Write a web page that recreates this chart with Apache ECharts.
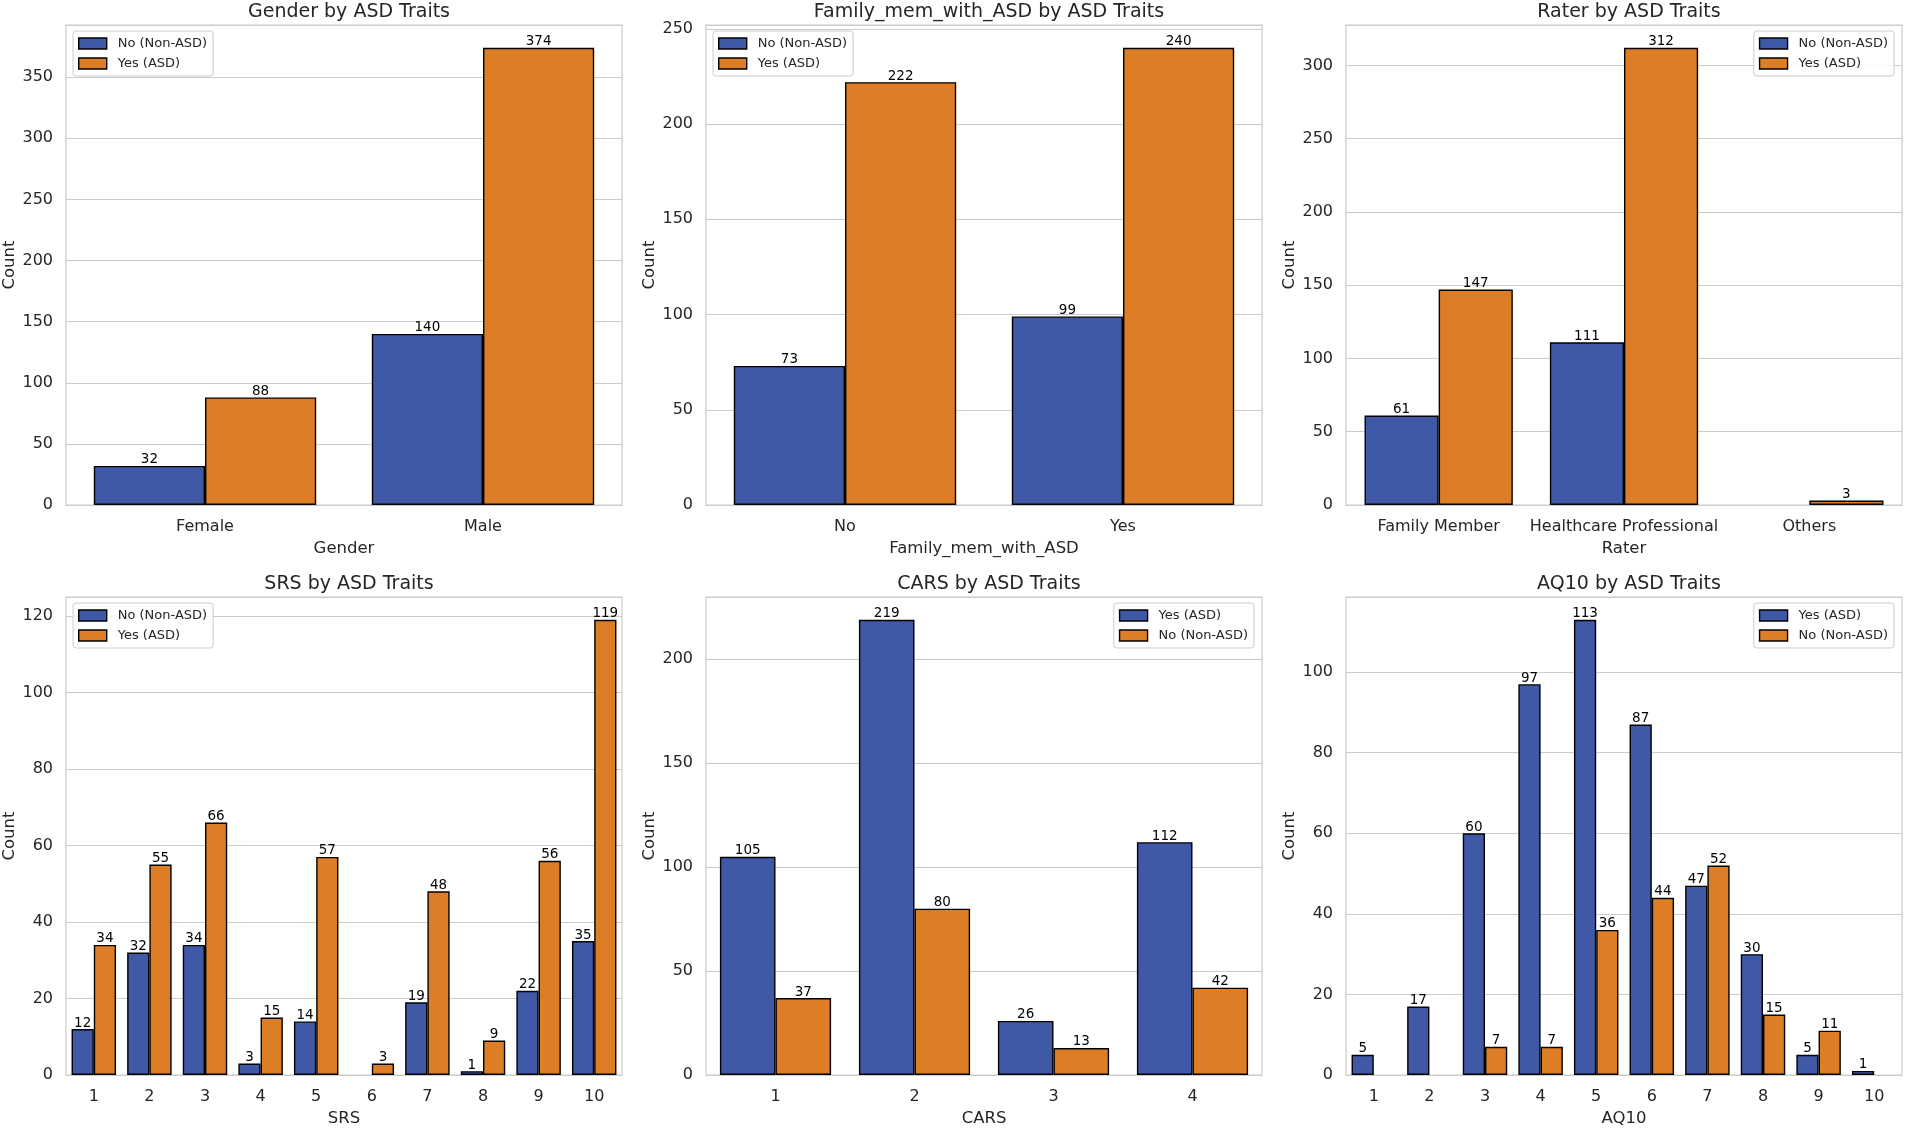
<!DOCTYPE html>
<html>
<head>
<meta charset="utf-8">
<script src="https://cdn.jsdelivr.net/npm/echarts@6/dist/echarts.min.js"></script>
<style>
html,body{margin:0;padding:0;background:#fff;}
#chart{width:1905px;height:1128px;}
</style>
</head>
<body>
<div id="chart"></div>
<script>
// ---- data ----
const genderCats = ['Female', 'Male'];
const genderNo = [32, 140];
const genderYes = [88, 374];

const familyCats = ['No', 'Yes'];
const familyNo = [73, 99];
const familyYes = [222, 240];

const raterCats = ['Family Member', 'Healthcare Professional', 'Others'];
const raterNo = [61, 111, null];
const raterYes = [147, 312, 3];

const srsCats = ['1', '2', '3', '4', '5', '6', '7', '8', '9', '10'];
const srsNo = [12, 32, 34, 3, 14, null, 19, 1, 22, 35];
const srsYes = [34, 55, 66, 15, 57, 3, 48, 9, 56, 119];

const carsCats = ['1', '2', '3', '4'];
const carsYes = [105, 219, 26, 112];
const carsNo = [37, 80, 13, 42];

const aq10Cats = ['1', '2', '3', '4', '5', '6', '7', '8', '9', '10'];
const aq10Yes = [5, 17, 60, 97, 113, 87, 47, 30, 5, 1];
const aq10No = [null, null, 7, 7, 36, 44, 52, 15, 11, null];

const yTickSteps = [50, 50, 50, 20, 50, 20];

// ---- panels ----
const panels = [
  {title: 'Gender by ASD Traits', xName: 'Gender', cats: genderCats,
   s: [['No (Non-ASD)', genderNo], ['Yes (ASD)', genderYes]], legend: 'left'},
  {title: 'Family_mem_with_ASD by ASD Traits', xName: 'Family_mem_with_ASD', cats: familyCats,
   s: [['No (Non-ASD)', familyNo], ['Yes (ASD)', familyYes]], legend: 'left'},
  {title: 'Rater by ASD Traits', xName: 'Rater', cats: raterCats,
   s: [['No (Non-ASD)', raterNo], ['Yes (ASD)', raterYes]], legend: 'right'},
  {title: 'SRS by ASD Traits', xName: 'SRS', cats: srsCats,
   s: [['No (Non-ASD)', srsNo], ['Yes (ASD)', srsYes]], legend: 'left'},
  {title: 'CARS by ASD Traits', xName: 'CARS', cats: carsCats,
   s: [['Yes (ASD)', carsYes], ['No (Non-ASD)', carsNo]], legend: 'right'},
  {title: 'AQ10 by ASD Traits', xName: 'AQ10', cats: aq10Cats,
   s: [['Yes (ASD)', aq10Yes], ['No (Non-ASD)', aq10No]], legend: 'right'}
];

const colors = ['#4059a7', '#dd7e27'];
const textColor = '#262626';
const font = 'DejaVu Sans';
const colLeft = [66, 706, 1346];
const rowTop = [25, 597];
const gw = 556, gh = 480;
const W = 1905;

const option = {
  animation: false,
  backgroundColor: '#fff',
  textStyle: {fontFamily: font},
  title: [], legend: [], grid: [], xAxis: [], yAxis: [], series: []
};

panels.forEach((p, i) => {
  const L = colLeft[i % 3], T = rowTop[Math.floor(i / 3)];
  const step = yTickSteps[i];
  const allVals = p.s[0][1].concat(p.s[1][1]).filter(v => v != null);
  const ymax = Math.max.apply(null, allVals) * 1.05;

  option.grid.push({left: L, top: T, width: gw, height: gh, show: true,
    borderColor: '#cccccc', borderWidth: 1.25, backgroundColor: '#fff', containLabel: false});

  option.title.push({text: p.title, left: L + gw / 2, top: T - 27, textAlign: 'center',
    textStyle: {fontFamily: font, fontSize: 19, fontWeight: 'normal', color: textColor}});

  option.xAxis.push({type: 'category', gridIndex: i, data: p.cats,
    name: p.xName, nameLocation: 'middle', nameGap: 35,
    nameTextStyle: {fontFamily: font, fontSize: 16.5, color: textColor},
    axisLine: {show: false}, axisTick: {show: false}, splitLine: {show: false},
    axisLabel: {interval: 0, margin: 14, fontFamily: font, fontSize: 16, color: textColor}});

  option.yAxis.push({type: 'value', gridIndex: i, min: 0, max: ymax, interval: step,
    name: 'Count', nameLocation: 'middle', nameGap: 48,
    nameTextStyle: {fontFamily: font, fontSize: 16.5, color: textColor},
    axisLine: {show: false}, axisTick: {show: false},
    splitLine: {show: true, lineStyle: {color: '#cccccc', width: 1.1}},
    axisLabel: {margin: 13, fontFamily: font, fontSize: 16, color: textColor,
      showMaxLabel: false,
      formatter: v => (Math.abs(v / step - Math.round(v / step)) < 1e-9 ? String(v) : '')}});

  const names = [];
  p.s.forEach((s, k) => {
    const nm = i + '|' + s[0];
    names.push(nm);
    option.series.push({type: 'bar', name: nm, xAxisIndex: i, yAxisIndex: i, data: s[1],
      barWidth: '40%', barGap: '0%',
      itemStyle: {color: colors[k], borderColor: '#000000', borderWidth: 1.4},
      label: {show: true, position: 'top', distance: -1, fontFamily: font, fontSize: 13.5, color: '#000'}});
  });

  const lg = {data: names, orient: 'vertical', top: T + 6,
    itemWidth: 28, itemHeight: 11, itemGap: 7, padding: [6, 6, 6, 5],
    borderColor: '#cccccc', borderWidth: 1, borderRadius: 3,
    backgroundColor: 'rgba(255,255,255,0.85)', icon: 'rect',
    itemStyle: {borderColor: '#000000', borderWidth: 1.4},
    formatter: n => n.split('|')[1],
    textStyle: {fontFamily: font, fontSize: 13, color: textColor, padding: [0, 0, 0, 6]}};
  if (p.legend === 'left') lg.left = L + 7; else lg.right = W - (L + gw - 8);
  option.legend.push(lg);
});

const chart = echarts.init(document.getElementById('chart'), null, {renderer: 'canvas'});
chart.setOption(option);
</script>
</body>
</html>
